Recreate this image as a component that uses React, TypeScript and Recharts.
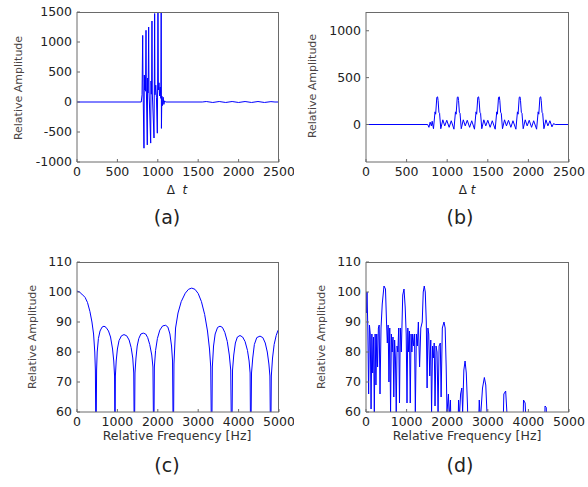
import { LineChart, Line, XAxis, YAxis } from "recharts";

// (a) time signal
const A_T = [0, 795, 805, 813, 817, 829, 833, 838, 843, 848, 854, 858, 870, 874, 878, 882, 887, 891, 912, 916, 920, 924, 928, 932, 953, 957, 961, 965, 975, 983, 994, 998, 1002, 1007, 1015, 1022, 1030, 1038, 1042, 1045, 1050, 1058, 1066, 1075, 1085, 1095, 1550, 1600, 1680, 1760, 1840, 1920, 2000, 2080, 2160, 2240, 2320, 2400, 2450, 2500];
const A_AMP = [0, 0, 120, 1110, 300, -770, 450, 200, 420, 180, 1195, 250, -715, 400, 150, 380, 1250, 200, -685, 350, 130, 330, 1350, 150, -600, 300, 1475, 120, 280, 80, -520, 250, 1650, 200, 320, 100, 250, 60, 1650, -440, 100, -60, 80, -40, 20, 0, 0, 8, -8, 8, -8, 8, -8, 8, -8, 8, -8, 6, 0, 0];

// (b) time signal
const B_T = [0, 760, 775, 790, 805, 815, 831, 850, 858, 872, 882, 888, 898, 906, 921, 946, 970, 995, 1024, 1050, 1083,
  1102, 1110, 1124, 1134, 1140, 1150, 1158, 1173, 1198, 1222, 1247, 1276, 1302, 1336,
  1355, 1363, 1377, 1387, 1393, 1403, 1411, 1426, 1451, 1475, 1500, 1529, 1555, 1591,
  1610, 1618, 1632, 1642, 1648, 1658, 1666, 1681, 1706, 1730, 1755, 1784, 1810, 1846,
  1865, 1873, 1887, 1897, 1903, 1913, 1921, 1936, 1961, 1985, 2010, 2039, 2065, 2101,
  2120, 2128, 2142, 2152, 2158, 2168, 2176, 2191, 2216, 2240, 2265, 2290, 2310, 2330, 2500];
const B_AMP = [0, 0, -30, 25, -15, 35, -45, 135, 110, 290, 295, 255, 130, 120, -45, 50, -15, 45, -30, 40, -50,
  135, 110, 290, 295, 255, 130, 120, -45, 50, -15, 45, -30, 40, -50,
  135, 110, 290, 295, 255, 130, 120, -45, 50, -15, 45, -30, 40, -50,
  135, 110, 290, 295, 255, 130, 120, -45, 50, -15, 45, -30, 40, -50,
  135, 110, 290, 295, 255, 130, 120, -45, 50, -15, 45, -30, 40, -50,
  135, 110, 290, 295, 255, 130, 120, -45, 50, -15, 40, -25, 10, 0, 0];

// (c) spectrum
const C_F = [0, 60, 120, 200, 260, 320, 370, 410, 440, 455, 470,
  485, 500, 530, 570, 620, 668, 720, 780, 830, 880, 910, 930, 940,
  950, 970, 1000, 1040, 1100, 1163, 1230, 1290, 1340, 1380, 1405, 1420,
  1435, 1460, 1490, 1530, 1580, 1640, 1700, 1750, 1800, 1850, 1880, 1900,
  1915, 1945, 1990, 2050, 2120, 2195, 2250, 2300, 2340, 2365, 2385,
  2400, 2440, 2500, 2580, 2680, 2760, 2840, 2920, 3000, 3080, 3160, 3230, 3280, 3310, 3333,
  3350, 3380, 3420, 3480, 3540, 3600, 3660, 3720, 3770, 3805, 3829,
  3850, 3880, 3920, 3970, 4035, 4100, 4160, 4220, 4260, 4285, 4300,
  4320, 4350, 4390, 4450, 4530, 4600, 4660, 4710, 4750, 4775, 4794,
  4810, 4840, 4880, 4930, 4970, 5000];
const C_DB = [100.3, 100, 99.3, 98.2, 96.5, 93.5, 90, 86, 80, 74, 45,
  74, 80, 84.5, 87, 88.3, 88.6, 88.2, 87, 85, 81, 77, 72, 45,
  72, 77, 81, 83.8, 85.4, 85.8, 85.4, 84, 81.5, 78, 73, 45,
  73, 78, 82, 84.5, 86, 86.3, 86, 84.8, 82.5, 79, 75, 45,
  75, 80.5, 84.5, 87.3, 88.7, 88.9, 88.3, 86, 82, 77, 45,
  76, 88, 93, 96.8, 99.6, 100.9, 101.3, 100.9, 99.5, 96.8, 92.5, 87, 81, 75, 45,
  75, 82, 86, 88.2, 88.6, 88.2, 86.5, 83.5, 79, 74, 45,
  74, 79, 83, 85, 85.5, 85, 83.5, 80.5, 77, 73, 45,
  73, 78, 82.5, 84.8, 85.3, 84.8, 83, 80, 76, 72, 45,
  72, 78, 82.5, 85.5, 87, 87.7];

// (d) spectrum
const D_F = [0, 12, 25, 45, 65, 85, 105, 125, 145, 165, 185, 205, 225, 245, 265, 285, 305, 325, 345, 370, 400, 443, 480, 505, 525, 545, 565, 585, 605, 625, 645, 665, 685, 705, 725, 745, 765, 785, 805, 825, 845, 870, 905, 936, 965, 990, 1010, 1030, 1050, 1070, 1090, 1110, 1130, 1150, 1170, 1195, 1215, 1240, 1265, 1290, 1320, 1350, 1385, 1410, 1435, 1460, 1485, 1505, 1525, 1545, 1570, 1595, 1615, 1640, 1660, 1680, 1700, 1725, 1750, 1775, 1800, 1830, 1850, 1880, 1921, 1950, 1975, 1995, 2030, 2050, 2080, 2100, 2260, 2280, 2300, 2330, 2360, 2380, 2410, 2440, 2470, 2500, 2520, 2760, 2790, 2815, 2870, 2915, 2950, 2985, 3000, 3370, 3395, 3440, 3470, 3490, 3860, 3880, 3920, 3945, 3960, 4390, 4410, 4440, 4460, 5000];
const D_DB = [100, 93, 100, 88, 66, 89, 86, 61, 86, 73, 85, 60, 86, 69, 86, 75, 88, 89, 66, 88, 96, 102, 101, 90, 83, 89, 70, 88, 60, 86, 80, 85, 65, 84, 78, 60, 82, 80, 88, 63, 88, 80, 99, 101, 95, 86, 63, 88, 80, 87, 63, 86, 80, 86, 82, 86, 60, 86, 82, 90, 75, 88, 90, 100, 102, 100, 90, 68, 88, 86, 72, 84, 60, 82, 78, 83, 62, 82, 80, 60, 82, 83, 65, 88, 90, 88, 75, 60, 66, 58, 64, 50, 50, 64, 58, 66, 68, 60, 74, 77, 73, 62, 50, 50, 64, 57, 68, 71.5, 69, 58, 50, 50, 66, 67, 60, 50, 50, 64, 63, 55, 50, 50, 62, 61.5, 50, 50];

const T_TICKS = [0, 500, 1000, 1500, 2000, 2500];
const F_TICKS = [0, 1000, 2000, 3000, 4000, 5000];
const A_YTICKS = [-1000, -500, 0, 500, 1000, 1500];
const B_YTICKS = [0, 500, 1000];
const DB_TICKS = [60, 70, 80, 90, 100, 110];

const zip = (xs: number[], ys: number[]) => xs.map((x, i) => ({ x, y: ys[i] }));

const FONT = "DejaVu Sans, sans-serif";
const AXIS = "#6a6a6a";
const Y_AXIS_W = 50;
const X_AXIS_H = 30;
const tickStyle = { fill: "#222", fontSize: 12.5, fontFamily: FONT };

function Panel(props: {
  left: number; top: number; width: number; height: number;
  margin: { top: number; right: number; left: number; bottom: number };
  data: { x: number; y: number }[];
  xDomain: number[]; xTicks: number[]; yDomain: number[]; yTicks: number[];
}) {
  const { left, top, width, height, margin, data, xDomain, xTicks, yDomain, yTicks } = props;
  // top/right sides of the box around the plot area
  const boxLeft = margin.left + Y_AXIS_W;
  const boxW = width - margin.right - boxLeft;
  const boxH = height - margin.bottom - X_AXIS_H - margin.top;
  return (
    <div style={{ position: "absolute", left, top, width, height }}>
      <LineChart width={width} height={height} data={data} margin={margin}>
        <XAxis dataKey="x" type="number" domain={xDomain} ticks={xTicks} interval={0}
          height={X_AXIS_H} tickSize={-3} tickMargin={8} stroke={AXIS} tick={tickStyle} allowDataOverflow />
        <YAxis type="number" domain={yDomain} ticks={yTicks} interval={0} width={Y_AXIS_W}
          tickSize={-3} tickMargin={8} stroke={AXIS} tick={tickStyle} allowDataOverflow />
        <Line dataKey="y" type="linear" dot={false} stroke="#0000ff"
          strokeWidth={1} isAnimationActive={false} />
      </LineChart>
      <div style={{
        position: "absolute", left: boxLeft, top: margin.top - 0.5, width: boxW, height: boxH,
        borderTop: `1px solid ${AXIS}`, borderRight: `1px solid ${AXIS}`, boxSizing: "border-box",
        pointerEvents: "none",
      }} />
    </div>
  );
}

function Text(props: { x: number; y: number; size: number; color?: string; rotate?: boolean; children: any }) {
  const { x, y, size, color = "#222", rotate, children } = props;
  return (
    <div style={{
      position: "absolute", left: x, top: y, whiteSpace: "nowrap", fontFamily: FONT, fontSize: size,
      color, lineHeight: 1, transform: `translate(-50%, -50%)${rotate ? " rotate(-90deg)" : ""}`,
    }}>{children}</div>
  );
}

export default function App() {
  return (
    <div style={{ position: "absolute", left: 0, top: 0, width: 588, height: 487, background: "#fff", overflow: "hidden" }}>
      <Panel left={0} top={0} width={294} height={200} margin={{ top: 12, right: 15, left: 27, bottom: 8 }}
        data={zip(A_T, A_AMP)} xDomain={[0, 2500]} xTicks={T_TICKS} yDomain={[-1000, 1500]} yTicks={A_YTICKS} />
      <Panel left={294} top={0} width={294} height={200} margin={{ top: 12, right: 19, left: 22, bottom: 8 }}
        data={zip(B_T, B_AMP)} xDomain={[0, 2500]} xTicks={T_TICKS} yDomain={[-400, 1200]} yTicks={B_YTICKS} />
      <Panel left={0} top={240} width={294} height={210} margin={{ top: 22, right: 15, left: 27, bottom: 8 }}
        data={zip(C_F, C_DB)} xDomain={[0, 5000]} xTicks={F_TICKS} yDomain={[60, 110]} yTicks={DB_TICKS} />
      <Panel left={294} top={240} width={294} height={210} margin={{ top: 22, right: 19, left: 22, bottom: 8 }}
        data={zip(D_F, D_DB)} xDomain={[0, 5000]} xTicks={F_TICKS} yDomain={[60, 110]} yTicks={DB_TICKS} />

      <Text x={18} y={88} size={11} color="#4a4444" rotate>Relative Amplitude</Text>
      <Text x={312} y={86} size={11} color="#4a4444" rotate>Relative Amplitude</Text>
      <Text x={32} y={337} size={11} color="#4a4444" rotate>Relative Amplitude</Text>
      <Text x={321} y={337} size={11} color="#4a4444" rotate>Relative Amplitude</Text>

      <Text x={177} y={190} size={12}><span>Δ&nbsp;&nbsp;<i>t</i></span></Text>
      <Text x={467} y={190} size={12}><span>Δ&nbsp;<i>t</i></span></Text>
      <Text x={177} y={436} size={12.5} color="#333">Relative Frequency [Hz]</Text>
      <Text x={467} y={436} size={12.5} color="#333">Relative Frequency [Hz]</Text>

      <Text x={167} y={217} size={19}>(a)</Text>
      <Text x={460} y={217} size={19}>(b)</Text>
      <Text x={167} y={465} size={19}>(c)</Text>
      <Text x={460} y={465} size={19}>(d)</Text>
    </div>
  );
}
